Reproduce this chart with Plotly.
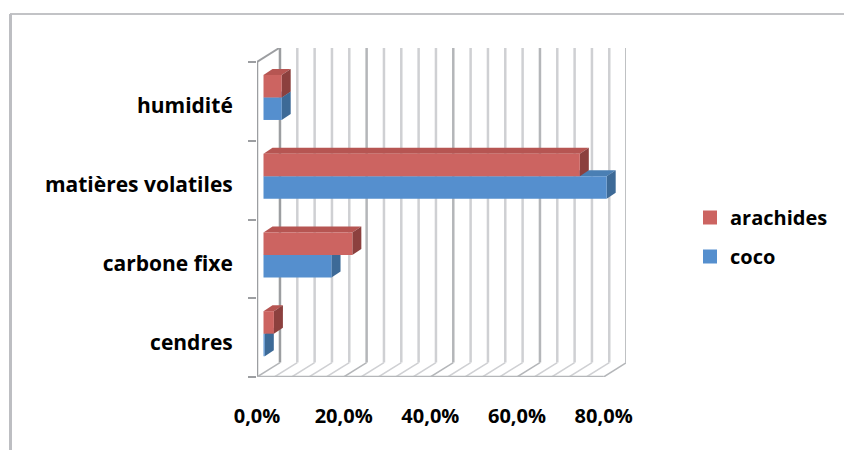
import plotly.graph_objects as go

# Data, listed from the bottom of the chart upward
categories = ["cendres", "carbone fixe", "matières volatiles", "humidité"]
coco = [0.3, 15.7, 79.2, 4.2]
arachides = [2.4, 20.5, 73.0, 4.2]
grid_values = list(range(0, 81, 4))
major_ticks = [0, 20, 40, 60, 80]
major_labels = ["0,0%", "20,0%", "40,0%", "60,0%", "80,0%"]

# Oblique projection of the box, in axis units
WALL_DX, WALL_DY = 5.3, 0.184
BAR_X0, BAR_DY = 1.5, 0.05
DEPTH_DX, DEPTH_DY = 2.08, 0.076
BAR_H = 0.286
n = len(categories)

LIGHT, MID, DARK = "#CFD0D3", "#B4B6B9", "#9C9EA1"
RED = dict(front="#CC6461", top="#B65552", side="#8C403E")
BLUE = dict(front="#558FCE", top="#4A7FB4", side="#3D6A97")
TEXT_FONT = "Open Sans"

fig = go.Figure()


def add_lines(xs, ys, color, width):
    fig.add_trace(go.Scatter(x=xs, y=ys, mode="lines", cliponaxis=False,
                             line=dict(color=color, width=width),
                             hoverinfo="skip", showlegend=False))


def add_poly(xs, ys, color):
    fig.add_trace(go.Scatter(x=xs, y=ys, mode="lines", fill="toself", fillcolor=color,
                             line=dict(width=0, color=color), cliponaxis=False,
                             hoverinfo="skip", showlegend=False))


# Back wall and floor lines
for v in grid_values:
    major = v in major_ticks
    add_lines([v + WALL_DX, v + WALL_DX], [WALL_DY, n + WALL_DY],
              DARK if v in (0, 80) else (MID if major else LIGHT), 2.5)
    add_lines([v, v + WALL_DX], [0, WALL_DY], MID if major else LIGHT, 1.5)

# Front edges of the box
add_lines([0, 0], [0, n], DARK, 2.5)
add_lines([0, WALL_DX], [n, n + WALL_DY], DARK, 2)
add_lines([0, 80], [0, 0], MID, 2.5)


def add_bar(value, y0, palette):
    """One bar as three faces, front last."""
    x0, x1 = BAR_X0, BAR_X0 + value
    y1 = y0 + BAR_H
    add_poly([x0, x1, x1 + DEPTH_DX, x0 + DEPTH_DX, x0],
             [y1, y1, y1 + DEPTH_DY, y1 + DEPTH_DY, y1], palette["top"])
    add_poly([x1, x1 + DEPTH_DX, x1 + DEPTH_DX, x1, x1],
             [y0, y0 + DEPTH_DY, y1 + DEPTH_DY, y1, y0], palette["side"])
    add_poly([x0, x1, x1, x0, x0], [y0, y0, y1, y1, y0], palette["front"])


# Paint from the back row forward so nearer faces cover farther ones
for i in reversed(range(n)):
    centre = i + 0.5 + BAR_DY
    add_bar(coco[i], centre - BAR_H, BLUE)
    add_bar(arachides[i], centre, RED)

# Legend entries
for name, palette in (("arachides", RED), ("coco", BLUE)):
    fig.add_trace(go.Scatter(x=[None], y=[None], mode="markers", name=name, legendgroup=name,
                             marker=dict(symbol="square", size=14, color=palette["front"])))

W, H = 844, 450
L, R, T, B = 257, 626, 48, 377
PX_X = 369 / 85.16
PX_Y = 78.75


def paper_x(px):
    return (px - L) / (R - L)


def paper_y(px):
    return (B - px) / (B - T)


fig.update_layout(
    width=W, height=H, paper_bgcolor="white", plot_bgcolor="white",
    margin=dict(l=L, r=W - R, t=T, b=H - B, autoexpand=False),
    font=dict(family=TEXT_FONT, color="black", weight="bold"),
    xaxis=dict(range=[0, (R - L) / PX_X], showgrid=False, zeroline=False, showline=False,
               tickmode="array", tickvals=major_ticks, ticktext=major_labels,
               ticks="outside", ticklen=21, tickcolor="rgba(0,0,0,0)",
               tickfont=dict(family=TEXT_FONT, size=20, color="black", weight="bold")),
    yaxis=dict(range=[0, (B - T) / PX_Y], showgrid=False, zeroline=False, showline=False,
               tickmode="array", tickvals=[i + 0.44 for i in range(n)], ticktext=categories,
               ticks="outside", ticklen=19, tickcolor="rgba(0,0,0,0)",
               tickfont=dict(family=TEXT_FONT, size=21, color="black", weight="bold"),
               minor=dict(tickmode="array", tickvals=list(range(n + 1)), ticks="outside",
                          ticklen=8, tickwidth=2, tickcolor=DARK)),
    legend=dict(x=paper_x(690), y=paper_y(198), xanchor="left", yanchor="top",
                xref="paper", yref="paper", tracegroupgap=10, itemwidth=30,
                font=dict(family=TEXT_FONT, size=20, color="black", weight="bold"),
                bgcolor="rgba(0,0,0,0)"),
    shapes=[
        dict(type="line", xref="paper", yref="paper", x0=paper_x(10), x1=paper_x(844),
             y0=paper_y(14), y1=paper_y(14), line=dict(color="#C2C3C6", width=2)),
        dict(type="line", xref="paper", yref="paper", x0=paper_x(10.5), x1=paper_x(10.5),
             y0=paper_y(14), y1=paper_y(450), line=dict(color="#BDBEC2", width=3)),
    ],
)

fig.write_html("out.html")
